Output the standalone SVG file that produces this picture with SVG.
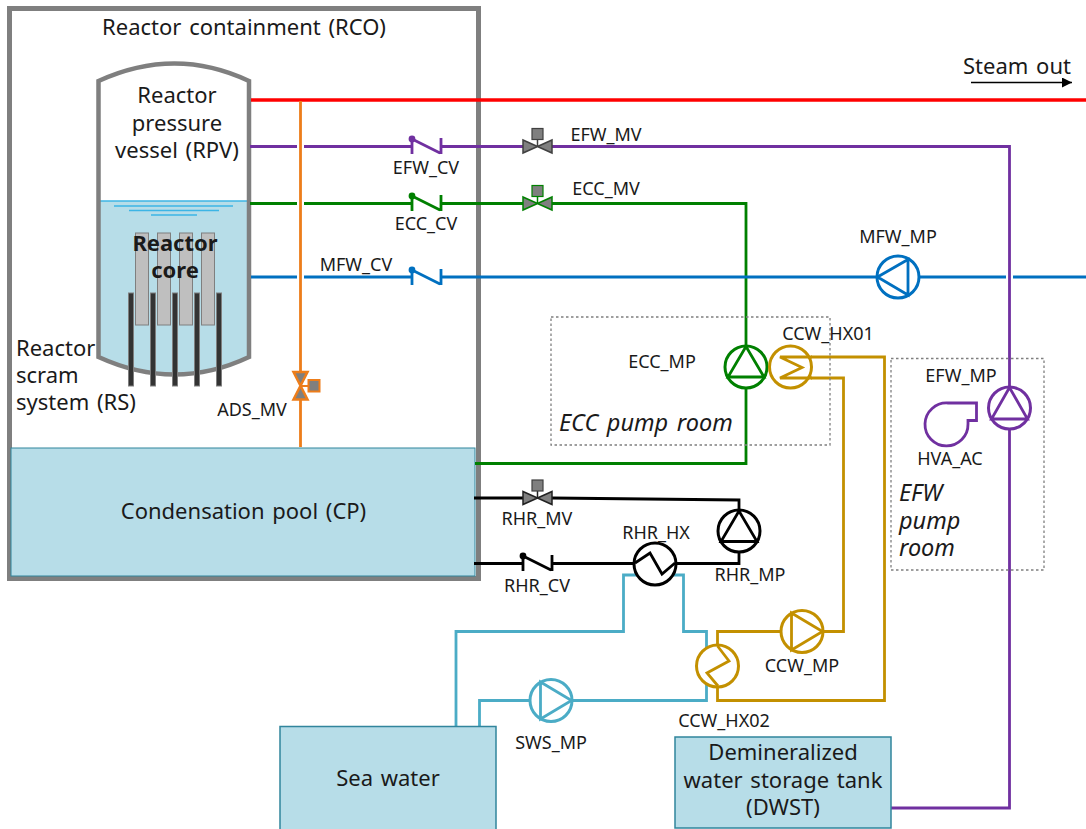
<svg xmlns="http://www.w3.org/2000/svg" width="1086" height="829" viewBox="0 0 1086 829">
<style>
text{font-family:"Noto Sans","Open Sans","Liberation Sans",sans-serif;fill:#1a1a1a}
.l{font-size:22px;text-anchor:middle;word-spacing:2px}
.ls{font-size:22px;word-spacing:2px}
.s{font-size:18px;text-anchor:middle}
.i{font-size:23.500px;font-style:italic;word-spacing:2.500px}
.p{fill:none;stroke-width:2.800;stroke-linejoin:miter}
.pur{stroke:#7030a0}.grn{stroke:#008000}.blu{stroke:#0070c0}.org{stroke:#ed7d1a}.blk{stroke:#000}.gold{stroke:#c39000}.cy{stroke:#4bacc6}
.v{fill:#7f7f7f;stroke-width:1.500}
.c{fill:#fff;stroke-width:3}
.tank{fill:#b7dde8;stroke:#31859c;stroke-width:1.500}
.room{fill:none;stroke:#7f7f7f;stroke-width:1.300;stroke-dasharray:2.500 2.500}
.rod{fill:#bfbfbf;stroke:#7f7f7f;stroke-width:1}
.crod{fill:#333;stroke:#7f7f7f;stroke-width:1}
</style>
<defs>
<marker id="ah" markerWidth="10" markerHeight="10" refX="10" refY="5" orient="auto" markerUnits="userSpaceOnUse"><path d="M0 0L10 5L0 10Z" fill="#000"/></marker>
<g id="valve"><path d="M-14.500 -6.500L14.500 6.500V-6.500L-14.500 6.500Z"/><path d="M0 0V-7" fill="none"/></g>
</defs>

<g id="RCO"><rect x="9.500" y="8.500" width="469" height="570" fill="#fff" stroke="#7f7f7f" stroke-width="5"/></g>
<g id="RPV">
<path d="M98.500 81Q175 46 249 81V357Q175 392 98.500 357Z" fill="#fff"/>
<path d="M98.500 201H249V357Q175 392 98.500 357Z" fill="#b7dde8"/>
<path d="M98.500 201H249" stroke="#3cb5e5" stroke-width="1.500" fill="none"/>
<path d="M114 206H233M129 210.500H219M151 215H197" stroke="#3cb5e5" stroke-width="1.500" fill="none"/>
<path d="M98.500 81Q175 46 249 81V357Q175 392 98.500 357Z" fill="none" stroke="#7f7f7f" stroke-width="4.500"/>
<rect class="rod" x="135.500" y="233" width="13" height="92"/><rect class="rod" x="157.500" y="233" width="13" height="92"/><rect class="rod" x="179.500" y="233" width="13" height="92"/><rect class="rod" x="201.500" y="233" width="13" height="92"/>
</g>
<g id="RS">
<rect class="crod" x="128.500" y="293" width="5" height="93"/><rect class="crod" x="150.500" y="293" width="5" height="93"/><rect class="crod" x="172.500" y="293" width="5" height="93"/><rect class="crod" x="194.500" y="293" width="5" height="93"/><rect class="crod" x="216.500" y="293" width="5" height="93"/>
</g>
<g id="CP"><rect x="11" y="448" width="464" height="128" fill="#b7dde8" stroke="#31859c" stroke-width="1"/></g>

<g id="connectors">
<path class="p" d="M251 100H1086" stroke="#ff0000" style="stroke-width:3.500"/>
<path class="p pur" d="M250 146.500H297M304 146.500H412M441 146.500H523M552 146.500H1009.500V387M1009.500 429V808H891"/>
<path class="p grn" d="M250 203.500H297M304 203.500H412M441 203.500H523M552 203.500H746V346M746 388V463.500H475"/>
<path class="p blu" d="M251 277H297M304 277H412M441 277H877M919 277H1006M1013 277H1086"/>
<path class="p org" d="M300.500 101V372M300.500 400V447"/>
<path class="p blk" d="M474 498H523M552 498L739 500V511M739 551V563.500H675M635 563.500H552M523 563.500H474"/>
<path class="p cy" d="M456 726V631.500H623.500V575H637M673 575H683.500V631.500H706.500V700.500H573M530 700.500H479.500V726"/>
<path class="p gold" d="M811 357H884.500V700.500H717.500V687M717.500 645V631.500H781M823 631.500H843.500V378H811"/>
<path d="M971 82.500H1072" stroke="#000" stroke-width="1.500" fill="none" marker-end="url(#ah)"/>
</g>

<g id="EFW_CV" class="p pur"><path d="M412 138V154M441 138V154M412 139L440 153"/><circle cx="412" cy="139" r="2" fill="#7030a0"/></g>
<g id="ECC_CV" class="p grn"><path d="M412 195V211M441 195V211M412 196L440 210"/><circle cx="412" cy="196" r="2" fill="#008000"/></g>
<g id="MFW_CV" class="p blu"><path d="M412 269V285M441 269V285M412 270L440 284"/><circle cx="412" cy="270" r="2" fill="#0070c0"/></g>
<g id="RHR_CV" class="p blk"><path d="M523 555V571M552 555V571M523 556L551 570"/><circle cx="523" cy="556" r="2" fill="#000"/></g>

<g id="EFW_MV"><use href="#valve" x="537.500" y="146.500" class="v" stroke="#404040"/><rect x="532" y="128.500" width="11" height="11" fill="#7f7f7f" stroke="#404040" stroke-width="1.200"/></g>
<g id="ECC_MV"><use href="#valve" x="537.500" y="203.500" class="v" stroke="#008000"/><rect x="532" y="185.500" width="11" height="11" fill="#7f7f7f" stroke="#008000" stroke-width="1.200"/></g>
<g id="RHR_MV"><use href="#valve" x="537.500" y="498" class="v" stroke="#222"/><rect x="532" y="480" width="11" height="11" fill="#7f7f7f" stroke="#404040" stroke-width="1.200"/></g>
<g id="ADS_MV">
<path d="M293.500 372H307.500L293.500 399.500H307.500Z" fill="#7f7f7f" stroke="#ed7d1a" stroke-width="2.500"/>
<path d="M300.500 386H309" stroke="#ed7d1a" stroke-width="2" fill="none"/>
<rect x="308.500" y="380" width="11" height="11.500" fill="#7f7f7f" stroke="#ed7d1a" stroke-width="2"/>
</g>

<g id="MFW_MP"><circle class="c" cx="898" cy="277" r="21" stroke="#0070c0"/><path class="p blu" d="M877.500 277L908 259.500V295Z"/></g>
<g id="ECC_MP"><circle class="c" cx="746" cy="367" r="21" stroke="#008000"/><path class="p grn" d="M746 346.500L728 377H764Z"/></g>
<g id="CCW_HX01"><circle class="c" cx="790.500" cy="367" r="21" stroke="#c39000"/><path class="p gold" d="M812 357H780L802 367.500L780 378H812"/></g>
<g id="EFW_MP"><circle class="c" cx="1009.500" cy="408" r="21" stroke="#7030a0"/><path class="p pur" d="M1009.500 387.500L991.500 419H1027.500Z"/></g>
<g id="HVA_AC"><path class="p pur" d="M976.500 403H948A21.500 21.500 0 1 0 968 424V420.500H976.500Z"/></g>
<g id="RHR_MP"><circle class="c" cx="739" cy="531" r="21" stroke="#000"/><path class="p blk" d="M739 511L721 541.500H757Z"/></g>
<g id="RHR_HX"><circle class="c" cx="655" cy="564" r="21" stroke="#000"/><path class="p blk" d="M635 563L650 553L662 574L675 563"/></g>
<g id="CCW_MP"><circle class="c" cx="802" cy="631.500" r="21" stroke="#c39000"/><path class="p gold" d="M791.500 613L822.500 631.500L791.500 650Z"/></g>
<g id="CCW_HX02"><circle class="c" cx="717.500" cy="666" r="21" stroke="#c39000"/><path class="p gold" d="M717.500 646L729 661L707 673L718 686"/></g>
<g id="SWS_MP"><circle class="c" cx="551" cy="700.500" r="21" stroke="#4bacc6"/><path class="p cy" d="M540.500 682L571.500 700.500L540.500 719Z"/></g>

<g id="ECC_room"><rect class="room" x="551" y="317" width="279" height="128"/></g>
<g id="EFW_room"><rect class="room" x="891" y="358.500" width="153" height="211.500"/></g>
<g id="Sea_water"><rect class="tank" x="280" y="726.500" width="216" height="104"/><text class="l" x="388" y="786">Sea water</text></g>
<g id="DWST"><rect class="tank" x="675" y="737" width="216" height="91"/><text class="l" x="783" y="760">Demineralized</text><text class="l" x="783" y="788">water storage tank</text><text class="l" x="783" y="815">(DWST)</text></g>

<g id="labels">
<text class="l" x="244" y="35">Reactor containment (RCO)</text>
<text class="l" x="177" y="103">Reactor</text><text class="l" x="177" y="131">pressure</text><text class="l" x="177" y="158">vessel (RPV)</text>
<text class="l" x="175" y="251" font-weight="700">Reactor</text><text class="l" x="175" y="278" font-weight="700">core</text>
<text class="ls" x="16" y="356">Reactor</text><text class="ls" x="16" y="383">scram</text><text class="ls" x="16" y="410">system (RS)</text>
<text class="l" x="243.500" y="519">Condensation pool (CP)</text>
<text class="l" x="1017" y="74">Steam out</text>
<text class="s" x="252" y="416">ADS_MV</text>
<text class="s" x="356" y="271">MFW_CV</text>
<text class="s" x="426" y="174">EFW_CV</text>
<text class="s" x="426" y="230">ECC_CV</text>
<text class="s" x="606" y="141">EFW_MV</text>
<text class="s" x="606" y="195">ECC_MV</text>
<text class="s" x="898" y="243">MFW_MP</text>
<text class="s" x="828" y="340">CCW_HX01</text>
<text class="s" x="662" y="368">ECC_MP</text>
<text class="s" x="961" y="382">EFW_MP</text>
<text class="s" x="950" y="465">HVA_AC</text>
<text class="i" x="559" y="431">ECC pump room</text>
<text class="i" x="899" y="501">EFW</text><text class="i" x="899" y="529">pump</text><text class="i" x="899" y="556">room</text>
<text class="s" x="537" y="525">RHR_MV</text>
<text class="s" x="537" y="592">RHR_CV</text>
<text class="s" x="656" y="539">RHR_HX</text>
<text class="s" x="750" y="581">RHR_MP</text>
<text class="s" x="802" y="672">CCW_MP</text>
<text class="s" x="551" y="749">SWS_MP</text>
<text class="s" x="724" y="727">CCW_HX02</text>
</g>
</svg>
